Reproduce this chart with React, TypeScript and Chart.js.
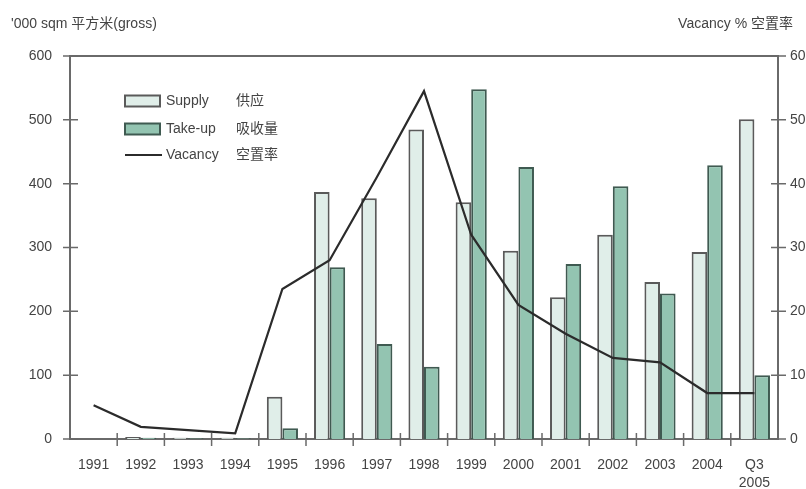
import React, { useEffect, useRef } from "react";
import { Chart, registerables } from "chart.js";

Chart.register(...registerables);

// Years on the category axis
const categories: (string | string[])[] = [
  "1991", "1992", "1993", "1994", "1995", "1996", "1997", "1998",
  "1999", "2000", "2001", "2002", "2003", "2004", ["Q3", "2005"],
];

// New supply, '000 sqm gross
const supply = [0, 3, 2, 2, 66, 387, 377, 485, 371, 295, 222, 320, 246, 293, 501];

// Take-up, '000 sqm gross
const takeUp = [0, 2, 1, 1, 17, 269, 149, 113, 548, 426, 274, 396, 228, 429, 100];

// Vacancy rate, %
const vacancy = [5.3, 1.9, 1.4, 0.9, 23.5, 28.0, 41.0, 54.5, 32.0, 21.0, 16.5, 12.7, 12.0, 7.2, 7.2];

const seriesNames = ["Supply", "Take-up", "Vacancy"];
const seriesNamesCn = ["供应", "吸收量", "空置率"];

const leftAxisTitle = "'000 sqm 平方米(gross)";
const rightAxisTitle = "Vacancy % 空置率";

const FONT = "'Liberation Sans', Arial, 'Noto Sans CJK SC', sans-serif";
const TEXT = "#444";
const AXIS = "#6a6a6a";
const SUPPLY_FILL = "#e0eee9";
const SUPPLY_EDGE = "#5a5a5a";
const TAKEUP_FILL = "#93c4b1";
const TAKEUP_EDGE = "#3f5a51";
const LINE = "#2b2b2b";

const decorations = {
  id: "decorations",
  afterDraw(chart: any) {
    const { ctx, chartArea } = chart;
    const { left, right, top, bottom } = chartArea;
    const y = chart.scales.y;
    const y1 = chart.scales.y1;
    ctx.save();

    // frame top line
    ctx.strokeStyle = AXIS;
    ctx.lineWidth = 2;
    ctx.beginPath();
    ctx.moveTo(left, top);
    ctx.lineTo(right, top);
    ctx.stroke();

    // tick marks crossing the axes
    ctx.lineWidth = 1.5;
    ctx.beginPath();
    y.ticks.forEach((_t: any, i: number) => {
      const py = y.getPixelForTick(i);
      ctx.moveTo(left - 7, py);
      ctx.lineTo(left + 8, py);
    });
    y1.ticks.forEach((_t: any, i: number) => {
      const py = y1.getPixelForTick(i);
      ctx.moveTo(right - 7, py);
      ctx.lineTo(right + 8, py);
    });
    const n = categories.length;
    const step = (right - left) / n;
    for (let i = 1; i < n; i++) {
      const px = left + i * step;
      ctx.moveTo(px, bottom - 6);
      ctx.lineTo(px, bottom + 7);
    }
    ctx.stroke();

    // axis titles
    ctx.fillStyle = TEXT;
    ctx.font = `14px ${FONT}`;
    ctx.textBaseline = "middle";
    ctx.textAlign = "left";
    ctx.fillText(leftAxisTitle, 11, 24);
    ctx.textAlign = "right";
    ctx.fillText(rightAxisTitle, 793, 24);

    // legend
    ctx.textAlign = "left";
    ctx.font = `14px ${FONT}`;
    const lx = 125;
    const rows = [101, 129, 155];
    const fills = [SUPPLY_FILL, TAKEUP_FILL];
    const edges = [SUPPLY_EDGE, TAKEUP_EDGE];
    for (let i = 0; i < 2; i++) {
      ctx.fillStyle = fills[i];
      ctx.fillRect(lx, rows[i] - 5.5, 35, 11);
      ctx.strokeStyle = edges[i];
      ctx.lineWidth = 2;
      ctx.strokeRect(lx, rows[i] - 5.5, 35, 11);
    }
    ctx.strokeStyle = LINE;
    ctx.lineWidth = 2;
    ctx.beginPath();
    ctx.moveTo(lx, rows[2]);
    ctx.lineTo(lx + 37, rows[2]);
    ctx.stroke();
    ctx.fillStyle = TEXT;
    for (let i = 0; i < 3; i++) {
      ctx.fillText(seriesNames[i], 166, rows[i]);
      ctx.fillText(seriesNamesCn[i], 236, rows[i]);
    }
    ctx.restore();
  },
};

export default function App() {
  const canvasRef = useRef<HTMLCanvasElement | null>(null);

  useEffect(() => {
    if (!canvasRef.current) return;
    const chart = new Chart(canvasRef.current, {
      type: "bar",
      data: {
        labels: categories,
        datasets: [
          {
            type: "line",
            label: seriesNames[2],
            data: vacancy,
            yAxisID: "y1",
            borderColor: LINE,
            borderWidth: 2.2,
            pointRadius: 0,
            tension: 0,
            fill: false,
            order: 0,
          } as any,
          {
            label: seriesNames[0],
            data: supply,
            yAxisID: "y",
            backgroundColor: SUPPLY_FILL,
            borderColor: SUPPLY_EDGE,
            borderWidth: 2,
            categoryPercentage: 0.66,
            barPercentage: 1,
            order: 1,
          },
          {
            label: seriesNames[1],
            data: takeUp,
            yAxisID: "y",
            backgroundColor: TAKEUP_FILL,
            borderColor: TAKEUP_EDGE,
            borderWidth: 2,
            categoryPercentage: 0.66,
            barPercentage: 1,
            order: 2,
          },
        ],
      },
      options: {
        animation: false,
        responsive: true,
        maintainAspectRatio: false,
        layout: { padding: { top: 56, left: 0, right: 0, bottom: 0 } },
        plugins: {
          legend: { display: false },
          tooltip: { enabled: false },
        },
        scales: {
          x: {
            grid: { display: false, drawTicks: false },
            border: { display: true, color: AXIS, width: 2 },
            ticks: {
              color: TEXT,
              font: { size: 14, family: FONT, lineHeight: 1.3 },
              padding: 17,
              maxRotation: 0,
              autoSkip: false,
            },
            afterFit(scale: any) {
              scale.height = 50;
            },
          },
          y: {
            position: "left",
            min: 0,
            max: 600,
            grid: { display: false, drawTicks: false },
            border: { display: true, color: AXIS, width: 2 },
            ticks: {
              stepSize: 100,
              color: TEXT,
              font: { size: 14, family: FONT },
              padding: 18,
            },
            afterFit(scale: any) {
              scale.width = 70;
            },
          },
          y1: {
            position: "right",
            min: 0,
            max: 60,
            grid: { display: false, drawTicks: false },
            border: { display: true, color: AXIS, width: 2 },
            ticks: {
              stepSize: 10,
              color: TEXT,
              font: { size: 14, family: FONT },
              padding: 12,
            },
            afterFit(scale: any) {
              scale.width = 52;
            },
          },
        },
      },
      plugins: [decorations],
    });
    return () => chart.destroy();
  }, []);

  return (
    <div
      style={{
        position: "absolute",
        left: 0,
        top: 0,
        width: 806,
        height: 489,
        overflow: "hidden",
        background: "#fff",
      }}
    >
      <div style={{ position: "relative", width: 830, height: 489 }}>
        <canvas ref={canvasRef} />
      </div>
    </div>
  );
}
